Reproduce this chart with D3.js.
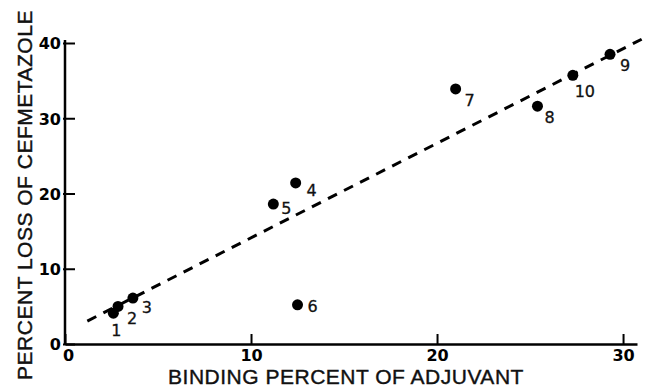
<!DOCTYPE html>
<meta charset="utf-8">
<style>
body { margin: 0; background: #fff; }
.tick text { font-family: "DejaVu Sans", sans-serif; font-weight: bold; font-size: 16px; }
.title { font-family: "Liberation Sans", Arial, sans-serif; font-size: 21px; letter-spacing: 0.5px; fill: #111; stroke: #111; stroke-width: 0.4; }
.lbl { font-family: "DejaVu Sans", sans-serif; font-size: 16px; fill: #111; stroke: #111; stroke-width: 0.3; }
</style>
<body>
<script src="https://d3js.org/d3.v7.min.js"></script>
<script>

// data
var labels  = ["1", "2", "3", "4", "5", "6", "7", "8", "9", "10"];
var binding = [2.6, 2.85, 3.65, 12.4, 11.2, 12.5, 21.0, 25.4, 29.3, 27.3];
var loss    = [4.1, 5.0, 6.1, 21.4, 18.6, 5.2, 33.9, 31.6, 38.5, 35.7];
var xTicks  = [0, 10, 20, 30];
var yTicks  = [0, 10, 20, 30, 40];
// regression line ends (x, y)
var fitX = [1.2, 31.0];
var fitY = [3.05, 40.5];

// where each number sits next to its dot
var labelOffset = [[3, 17], [14, 12], [14, 9], [16, 7], [13, 4], [15, 1], [14, 11], [12, 11], [15, 11], [12, 16]];

var width = 648, height = 387;

var x = d3.scaleLinear().domain([0, 30.75]).range([65, 637]);
var y = d3.scaleLinear().domain([0, 40]).range([344, 43]);

var svg = d3.select("body").append("svg")
    .attr("width", width)
    .attr("height", height);

// x axis
var xa = svg.append("g")
    .attr("transform", "translate(0," + y(0) + ")")
    .call(d3.axisBottom(x).tickValues(xTicks).tickSizeInner(-10).tickSizeOuter(0).tickPadding(6));
xa.select(".domain").attr("stroke-width", 2.5);
xa.selectAll(".tick line").attr("stroke-width", 2);
xa.selectAll(".tick text").attr("dx", function(d) { return d === 0 ? 3 : 0; });

// y axis
var ya = svg.append("g")
    .attr("transform", "translate(" + x(0) + ",0)")
    .call(d3.axisLeft(y).tickValues(yTicks).tickSizeInner(-10).tickSizeOuter(0).tickPadding(4));
ya.select(".domain").attr("d", "M0," + y(0) + "V" + y(40.4)).attr("stroke-width", 2.5);
ya.selectAll(".tick line").attr("stroke-width", 2).attr("x1", -2);
ya.selectAll(".tick text").attr("dy", "0.36em");

// dashed fit line
svg.append("line")
    .attr("x1", x(fitX[0])).attr("y1", y(fitY[0]))
    .attr("x2", x(fitX[1])).attr("y2", y(fitY[1]))
    .attr("stroke", "#000")
    .attr("stroke-width", 3)
    .attr("stroke-dasharray", "10,8");

var pts = labels.map(function(l, i) { return {l: l, x: binding[i], y: loss[i], o: labelOffset[i]}; });

svg.selectAll(".dot")
    .data(pts)
  .enter().append("circle")
    .attr("class", "dot")
    .attr("cx", function(d) { return x(d.x); })
    .attr("cy", function(d) { return y(d.y); })
    .attr("r", 5.5)
    .attr("fill", "#000");

svg.selectAll(".lbl")
    .data(pts)
  .enter().append("text")
    .attr("class", "lbl")
    .attr("x", function(d) { return x(d.x) + d.o[0]; })
    .attr("y", function(d) { return y(d.y) + d.o[1]; })
    .attr("text-anchor", "middle")
    .attr("dy", "0.36em")
    .text(function(d) { return d.l; });

// axis titles
svg.append("text")
    .attr("class", "title")
    .attr("x", 346)
    .attr("y", 384)
    .attr("text-anchor", "middle")
    .text("BINDING PERCENT OF ADJUVANT");

svg.append("text")
    .attr("class", "title")
    .attr("transform", "translate(32,195) rotate(-90)")
    .attr("text-anchor", "middle")
    .text("PERCENT LOSS OF CEFMETAZOLE");

</script>
</body>
